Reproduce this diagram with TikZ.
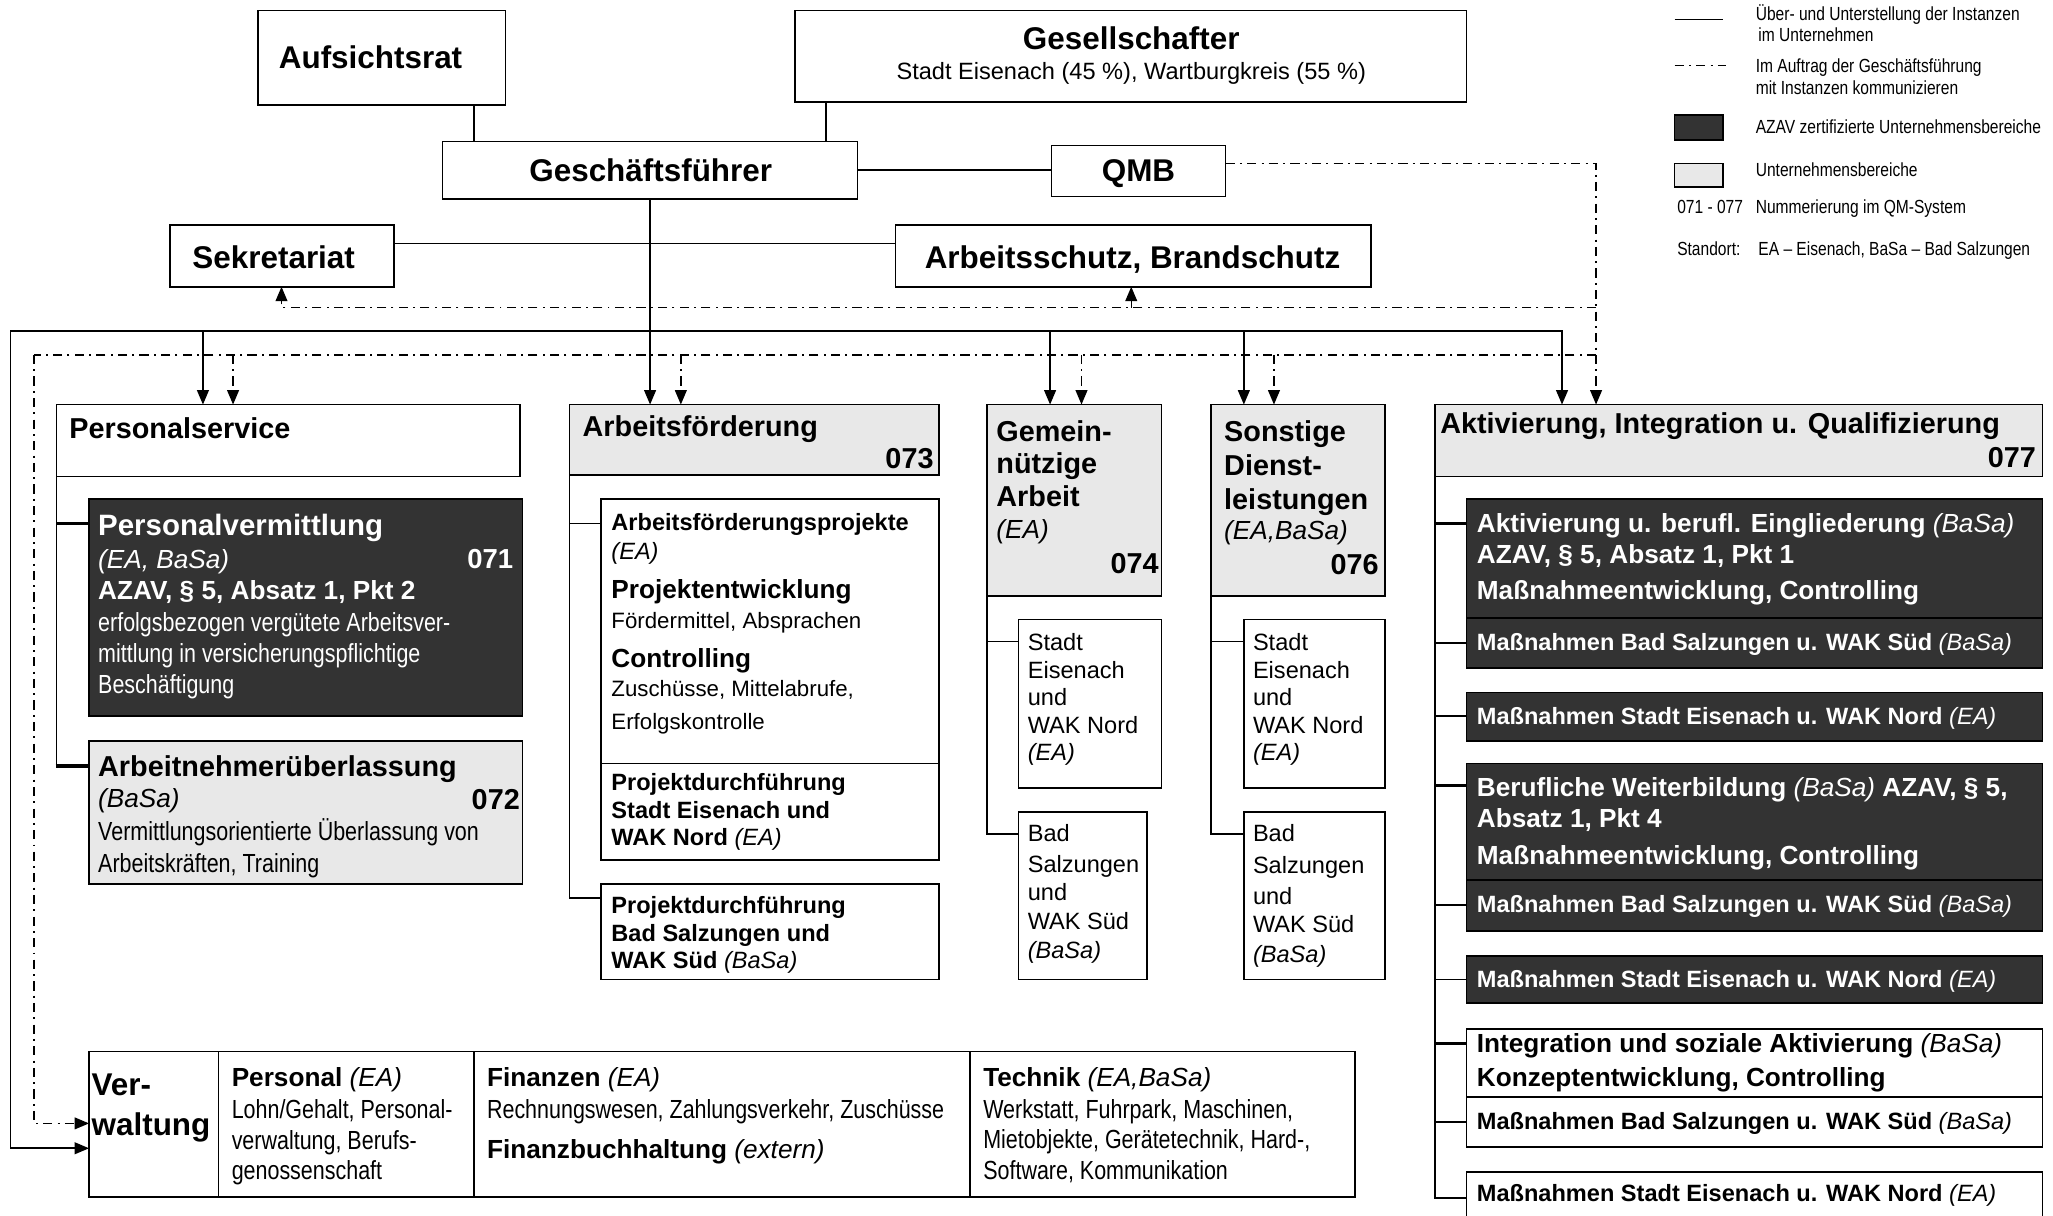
\documentclass[tikz,border=0pt]{standalone}
\usepackage{fontspec}
\setmainfont{Liberation Sans}
\newfontfamily\narr[FakeStretch=0.82]{Liberation Sans}
\usetikzlibrary{arrows.meta}
\definecolor{lgray}{HTML}{E8E8E8}
\definecolor{dgray}{HTML}{333333}
\newcommand\fsz[1]{\fontsize{#1}{#1}\selectfont}
\newcommand\Bx[6]{\node[#1, minimum width={#4-#2}, minimum height={#5-#3}] (#6) at (#2,#3) {};}
\begin{document}
\begin{tikzpicture}[x=1pt,y=-1pt,
  box/.style={draw, line width=1.2pt, rectangle, inner sep=0pt, outer sep=0pt, anchor=north west},
  lbox/.style={box, fill=lgray},
  dbox/.style={box, fill=dgray},
  txt/.style={inner sep=0pt, outer sep=0pt, anchor=base west},
  txtr/.style={inner sep=0pt, outer sep=0pt, anchor=base east},
  txtc/.style={inner sep=0pt, outer sep=0pt, anchor=base},
  wht/.style={text=white},
  conn/.style={line width=1.2pt},
  brk/.style={line width=2.6pt},
  thn/.style={line width=0.8pt},
  dd/.style={line width=1.1pt, dash pattern=on 7pt off 4pt on 1.5pt off 4pt},
  arr/.style={-{Triangle[width=9pt,length=11pt]}}]
\useasboundingbox (0,0) rectangle (1568,928);
\clip (0,0) rectangle (1568,928);

% ---------- boxes ----------
\Bx{box}{197}{8}{386}{80}{aufs}
\Bx{box}{607}{8}{1120}{78}{ges}
\Bx{box}{338}{108}{655}{152}{gf}
\Bx{box}{803}{111}{936}{150}{qmb}
\Bx{box}{130}{172}{301}{219}{sek}
\Bx{box}{684}{172}{1047}{219}{abs}
\Bx{box}{43}{309}{397}{364}{ps}
\Bx{lbox}{435}{309}{717}{363}{af}
\Bx{lbox}{754}{309}{887}{455}{gna}
\Bx{lbox}{925}{309}{1058}{455}{sdl}
\Bx{lbox}{1096}{309}{1560}{364}{aiq}
\Bx{dbox}{68}{381}{399}{547}{pv}
\Bx{lbox}{68}{566}{399}{675}{anue}
\Bx{box}{459}{381}{717}{657}{afp}
\Bx{box}{459}{675}{717}{748}{pdb}
\Bx{box}{778}{473}{887}{602}{gn1}
\Bx{box}{778}{620}{876}{748}{gn2}
\Bx{box}{950}{473}{1058}{602}{sd1}
\Bx{box}{950}{620}{1058}{748}{sd2}
\Bx{dbox}{1120}{381}{1560}{510}{ak1}
\Bx{dbox}{1120}{529}{1560}{566}{ak2}
\Bx{dbox}{1120}{583}{1560}{711}{ak3}
\Bx{dbox}{1120}{730}{1560}{766}{ak4}
\Bx{box}{1120}{786}{1560}{876}{ak5}
\Bx{box}{1120}{895}{1560}{940}{ak6}
\Bx{box}{68}{803}{1035}{914}{verw}
\Bx{dbox}{1279}{88}{1316}{107}{lgd}
\Bx{lbox}{1279}{125}{1316}{143}{lgl}

% dividers
\draw[conn] (afp.west |- 0,583) -- (afp.east |- 0,583);
\draw[conn] (ak1.west |- 0,472) -- (ak1.east |- 0,472);
\draw[conn] (ak3.west |- 0,672) -- (ak3.east |- 0,672);
\draw[conn] (ak5.west |- 0,838) -- (ak5.east |- 0,838);
\draw[conn] (167,0 |- verw.north) -- (167,0 |- verw.south);
\draw[conn] (362,0 |- verw.north) -- (362,0 |- verw.south);
\draw[conn] (741,0 |- verw.north) -- (741,0 |- verw.south);

% ---------- connectors ----------
\draw[conn] (aufs.south -| 362,0) -- (gf.north -| 362,0);
\draw[conn] (ges.south -| 631,0) -- (gf.north -| 631,0);
\draw[conn] (gf.east |- 0,130) -- (qmb.west |- 0,130);
\draw[conn] (sek.east |- 0,186) -- (abs.west |- 0,186);
\draw[conn,arr] (gf.south) -- (af.north -| gf.south);

\coordinate (ddA) at (1219,235);
\coordinate (ddB) at (1219,271);
\coordinate (busL) at (8,253);
\coordinate (ddL) at (26,271);
\draw[dd,arr] (qmb.east |- 0,125) -- (1219,125) -- (aiq.north -| 1219,0);
\draw[dd,arr] (ddA) -- (215,235) -- (sek.south -| 215,0);
\draw[dd,arr] (864,235) -- (abs.south -| 864,0);
\draw[dd] (ddB) -- (ddL);
\draw[dd,arr] (ddL) -- (26,858) -- (verw.west |- 0,858);
\draw[dd,arr] (178,271) -- (ps.north -| 178,0);
\draw[dd,arr] (520,271) -- (af.north -| 520,0);
\draw[dd,arr] (826,271) -- (gna.north -| 826,0);
\draw[dd,arr] (973,271) -- (sdl.north -| 973,0);

\draw[conn,arr] (busL) -- (1193,253) -- (aiq.north -| 1193,0);
\draw[conn,arr] (busL) -- (8,877) -- (verw.west |- 0,877);
\draw[conn,arr] (155,253) -- (ps.north -| 155,0);
\draw[conn,arr] (802,253) -- (gna.north -| 802,0);
\draw[conn,arr] (950,253) -- (sdl.north -| 950,0);

% Personalservice tree
\draw[conn] (ps.south west) -- (43,586);
\draw[brk] (43,400) -- (pv.west |- 0,400);
\draw[brk] (42.4,585) -- (anue.west |- 0,585);
% Arbeitsfoerderung tree
\draw[conn] (af.south west) -- (435,686) -- (pdb.west |- 0,686);
\draw[thn] (435,400) -- (afp.west |- 0,400);
% Gemeinnuetzige tree
\draw[conn] (gna.south west) -- (754,637) -- (gn2.west |- 0,637);
\draw[conn] (754,490) -- (gn1.west |- 0,490);
% Sonstige tree
\draw[conn] (sdl.south west) -- (925,637) -- (sd2.west |- 0,637);
\draw[conn] (925,490) -- (sd1.west |- 0,490);
% Aktivierung tree
\draw[conn] (aiq.south west) -- (1096,915) -- (ak6.west |- 0,915);
\draw[brk] (1096,400) -- (ak1.west |- 0,400);
\draw[conn] (1096,491) -- (ak1.west |- 0,491);
\draw[conn] (1096,547) -- (ak2.west |- 0,547);
\draw[brk] (1096,600) -- (ak3.west |- 0,600);
\draw[conn] (1096,691) -- (ak3.west |- 0,691);
\draw[conn] (1096,748) -- (ak4.west |- 0,748);
\draw[brk] (1096,797) -- (ak5.west |- 0,797);
\draw[conn] (1096,857) -- (ak5.west |- 0,857);

% legend lines
\draw[conn] (1279,15) -- (1316,15);
\draw[dd] (1279,50) -- (1318,50);

% ---------- texts ----------
\node[txt] (tAufs) at (213,52.6) {\fsz{24}\bfseries Aufsichtsrat};
\node[txtc] (tGes) at (864,37.5) {\fsz{24}\bfseries Gesellschafter};
\node[txtc] (tGes2) at (864,60.5) {\fsz{18}Stadt Eisenach (45 \%), Wartburgkreis (55 \%)};
\node[txtc] (tGF) at (497,139) {\fsz{24}\bfseries Geschäftsführer};
\node[txtc] (tQMB) at (869.5,139) {\fsz{24}\bfseries QMB};
\node[txt] (tSek) at (147,205) {\fsz{24}\bfseries Sekretariat};
\node[txtc] (tAbs) at (865,205) {\fsz{24}\bfseries Arbeitsschutz, Brandschutz};

\node[txt] (tPS) at (53,335) {\fsz{22}\bfseries Personalservice};
\node[txt] (tAF) at (445,333) {\fsz{22}\bfseries Arbeitsförderung};
\node[txtr] (tAFn) at (713,358) {\fsz{22}\bfseries 073};
\node[txt] (tGN1) at (761,337) {\fsz{22}\bfseries Gemein-};
\node[txt] (tGN2) at (761,362) {\fsz{22}\bfseries nützige};
\node[txt] (tGN3) at (761,387) {\fsz{22}\bfseries Arbeit};
\node[txt] (tGN4) at (761,411) {\fsz{20}\itshape (EA)};
\node[txtr] (tGNn) at (885,438) {\fsz{22}\bfseries 074};
\node[txt] (tSD1) at (935,337) {\fsz{22}\bfseries Sonstige};
\node[txt] (tSD2) at (935,363) {\fsz{22}\bfseries Dienst-};
\node[txt] (tSD3) at (935,389) {\fsz{22}\bfseries leistungen};
\node[txt] (tSD4) at (935,412) {\fsz{20}\itshape (EA,BaSa)};
\node[txtr] (tSDn) at (1053,439) {\fsz{22}\bfseries 076};
\node[txt] (tAIQ) at (1100,331) {\fsz{22}\bfseries Aktivierung, Integration u. Qualifizierung};
\node[txtr] (tAIQn) at (1555,357) {\fsz{22}\bfseries 077};

% Personalvermittlung
\node[txt,wht] (tPV1) at (75,409) {\fsz{22.5}\bfseries Personalvermittlung};
\node[txt,wht] (tPV2) at (75,434) {\fsz{20}\itshape (EA, BaSa)};
\node[txtr,wht] (tPVn) at (392,434) {\fsz{21}\bfseries 071};
\node[txt,wht] (tPV3) at (75,458) {\fsz{20}\bfseries AZAV, § 5, Absatz 1, Pkt 2};
\node[txt,wht] (tPV4) at (75,482) {\fsz{20}\narr erfolgsbezogen vergütete Arbeitsver-};
\node[txt,wht] (tPV5) at (75,506) {\fsz{20}\narr mittlung in versicherungspflichtige};
\node[txt,wht] (tPV6) at (75,530) {\fsz{20}\narr Beschäftigung};
% Arbeitnehmerueberlassung
\node[txt] (tAN1) at (75,593) {\fsz{22}\bfseries Arbeitnehmerüberlassung};
\node[txt] (tAN2) at (75,617) {\fsz{20}\itshape (BaSa)};
\node[txtr] (tANn) at (397,618) {\fsz{22}\bfseries 072};
\node[txt] (tAN3) at (75,642) {\fsz{20}\narr Vermittlungsorientierte Überlassung von};
\node[txt] (tAN4) at (75,666) {\fsz{20}\narr Arbeitskräften, Training};

% Arbeitsfoerderungsprojekte
\node[txt] (tP1) at (467,405) {\fsz{18}\bfseries Arbeitsförderungsprojekte};
\node[txt] (tP2) at (467,427) {\fsz{18}\itshape (EA)};
\node[txt] (tP3) at (467,457) {\fsz{20}\bfseries Projektentwicklung};
\node[txt] (tP4) at (467,480) {\fsz{17}Fördermittel, Absprachen};
\node[txt] (tP5) at (467,510) {\fsz{20}\bfseries Controlling};
\node[txt] (tP6) at (467,532) {\fsz{17}Zuschüsse, Mittelabrufe,};
\node[txt] (tP7) at (467,557) {\fsz{17}Erfolgskontrolle};
\node[txt] (tP8) at (467,604) {\fsz{18}\bfseries Projektdurchführung};
\node[txt] (tP9) at (467,625) {\fsz{18}\bfseries Stadt Eisenach und};
\node[txt] (tP10) at (467,646) {\fsz{18}{\bfseries WAK Nord }\textit{(EA)}};
\node[txt] (tQ1) at (467,698) {\fsz{18}\bfseries Projektdurchführung};
\node[txt] (tQ2) at (467,719) {\fsz{18}\bfseries Bad Salzungen und};
\node[txt] (tQ3) at (467,740) {\fsz{18}{\bfseries WAK Süd }\textit{(BaSa)}};

% Gemeinnuetzige sub boxes
\node[txt] (tg1) at (785,497) {\fsz{18}Stadt};
\node[txt] (tg2) at (785,518) {\fsz{18}Eisenach};
\node[txt] (tg3) at (785,539) {\fsz{18}und};
\node[txt] (tg4) at (785,560) {\fsz{18}WAK Nord};
\node[txt] (tg5) at (785,581) {\fsz{18}\itshape (EA)};
\node[txt] (tg6) at (785,643) {\fsz{18}Bad};
\node[txt] (tg7) at (785,666) {\fsz{18}Salzungen};
\node[txt] (tg8) at (785,688) {\fsz{18}und};
\node[txt] (tg9) at (785,710) {\fsz{18}WAK Süd};
\node[txt] (tg10) at (785,732) {\fsz{18}\itshape (BaSa)};
% Sonstige sub boxes
\node[txt] (ts1) at (957,497) {\fsz{18}Stadt};
\node[txt] (ts2) at (957,518) {\fsz{18}Eisenach};
\node[txt] (ts3) at (957,539) {\fsz{18}und};
\node[txt] (ts4) at (957,560) {\fsz{18}WAK Nord};
\node[txt] (ts5) at (957,581) {\fsz{18}\itshape (EA)};
\node[txt] (ts6) at (957,643) {\fsz{18}Bad};
\node[txt] (ts7) at (957,667) {\fsz{18}Salzungen};
\node[txt] (ts8) at (957,691) {\fsz{18}und};
\node[txt] (ts9) at (957,712) {\fsz{18}WAK Süd};
\node[txt] (ts10) at (957,735) {\fsz{18}\itshape (BaSa)};

% Aktivierung sub boxes
\node[txt,wht] (ta1) at (1128,406.5) {\fsz{20}{\bfseries Aktivierung u. berufl. Eingliederung }\textit{(BaSa)}};
\node[txt,wht] (ta2) at (1128,430.5) {\fsz{20}\bfseries AZAV, § 5, Absatz 1, Pkt 1};
\node[txt,wht] (ta3) at (1128,458) {\fsz{20}\bfseries Maßnahmeentwicklung, Controlling};
\node[txt,wht] (ta4) at (1128,497) {\fsz{18}{\bfseries Maßnahmen Bad Salzungen u. WAK Süd }\textit{(BaSa)}};
\node[txt,wht] (ta5) at (1128,553) {\fsz{18}{\bfseries Maßnahmen Stadt Eisenach u. WAK Nord }\textit{(EA)}};
\node[txt,wht] (ta6) at (1128,608) {\fsz{20}{\bfseries Berufliche Weiterbildung }\textit{(BaSa)}\bfseries{} AZAV, § 5,};
\node[txt,wht] (ta7) at (1128,632) {\fsz{20}\bfseries Absatz 1, Pkt 4};
\node[txt,wht] (ta8) at (1128,660) {\fsz{20}\bfseries Maßnahmeentwicklung, Controlling};
\node[txt,wht] (ta9) at (1128,697) {\fsz{18}{\bfseries Maßnahmen Bad Salzungen u. WAK Süd }\textit{(BaSa)}};
\node[txt,wht] (ta10) at (1128,754) {\fsz{18}{\bfseries Maßnahmen Stadt Eisenach u. WAK Nord }\textit{(EA)}};
\node[txt] (ta11) at (1128,804) {\fsz{20}{\bfseries Integration und soziale Aktivierung }\textit{(BaSa)}};
\node[txt] (ta12) at (1128,830) {\fsz{20}\bfseries Konzeptentwicklung, Controlling};
\node[txt] (ta13) at (1128,863) {\fsz{18}{\bfseries Maßnahmen Bad Salzungen u. WAK Süd }\textit{(BaSa)}};
\node[txt] (ta14) at (1128,918) {\fsz{18}{\bfseries Maßnahmen Stadt Eisenach u. WAK Nord }\textit{(EA)}};

% Verwaltung
\node[txt] (tv1) at (70,837) {\fsz{24}\bfseries Ver-};
\node[txt] (tv2) at (70,867) {\fsz{24}\bfseries waltung};
\node[txt] (tv3) at (177,830) {\fsz{20}{\bfseries Personal }\textit{(EA)}};
\node[txt] (tv4) at (177,854) {\fsz{20}\narr Lohn/Gehalt, Personal-};
\node[txt] (tv5) at (177,878) {\fsz{20}\narr verwaltung, Berufs-};
\node[txt] (tv6) at (177,901) {\fsz{20}\narr genossenschaft};
\node[txt] (tv7) at (372,830) {\fsz{20}{\bfseries Finanzen }\textit{(EA)}};
\node[txt] (tv8) at (372,854) {\fsz{20}\narr Rechnungswesen, Zahlungsverkehr, Zuschüsse};
\node[txt] (tv9) at (372,885) {\fsz{20}{\bfseries Finanzbuchhaltung }\textit{(extern)}};
\node[txt] (tv10) at (751,830) {\fsz{20}{\bfseries Technik }\textit{(EA,BaSa)}};
\node[txt] (tv11) at (751,854) {\fsz{20}\narr Werkstatt, Fuhrpark, Maschinen,};
\node[txt] (tv12) at (751,877) {\fsz{20}\narr Mietobjekte, Gerätetechnik, Hard-,};
\node[txt] (tv13) at (751,901) {\fsz{20}\narr Software, Kommunikation};

% Legend texts
\node[txt] (tl1) at (1341,16) {\fsz{14.5}\narr Über- und Unterstellung der Instanzen};
\node[txt] (tl2) at (1343,32) {\fsz{14.5}\narr im Unternehmen};
\node[txt] (tl3) at (1341,55) {\fsz{14.5}\narr Im Auftrag der Geschäftsführung};
\node[txt] (tl4) at (1341,72) {\fsz{14.5}\narr mit Instanzen kommunizieren};
\node[txt] (tl5) at (1341,102) {\fsz{14.5}\narr AZAV zertifizierte Unternehmensbereiche};
\node[txt] (tl6) at (1341,135) {\fsz{14.5}\narr Unternehmensbereiche};
\node[txt] (tl7) at (1281,163) {\fsz{14.5}\narr 071 - 077};
\node[txt] (tl8) at (1341,163) {\fsz{14.5}\narr Nummerierung im QM-System};
\node[txt] (tl9) at (1281,195) {\fsz{14.5}\narr Standort:};
\node[txt] (tl10) at (1343,195) {\fsz{14.5}\narr EA – Eisenach, BaSa – Bad Salzungen};
\end{tikzpicture}
\end{document}
